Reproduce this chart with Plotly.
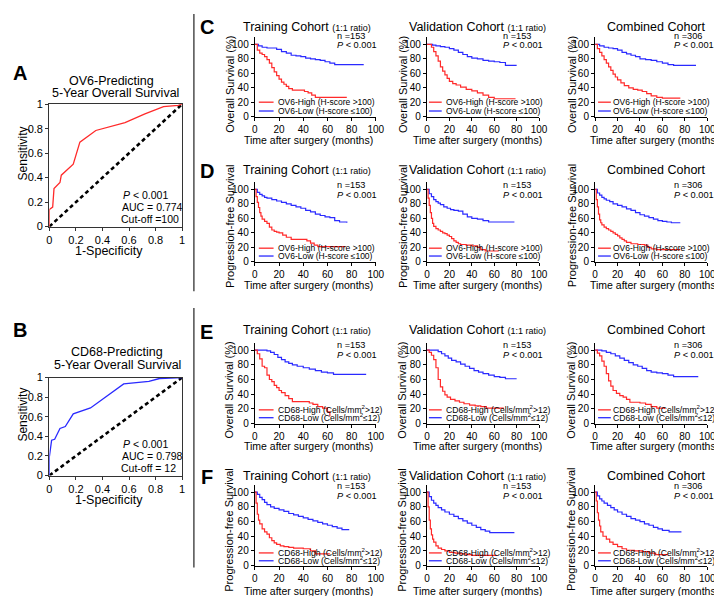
import plotly.graph_objects as go

W, H = 722, 596
FONT = "Arial, Liberation Sans, sans-serif"
RED = "#ff2a2a"
BLUE = "#2a2aff"

# ---------------- ROC data ----------------
ROC_A_FPR = [0, 0, 0.025, 0.035, 0.08, 0.09, 0.18, 0.23, 0.35, 0.57, 0.72, 0.86, 0.97, 1.0]
ROC_A_TPR = [0, 0.14, 0.16, 0.31, 0.36, 0.42, 0.51, 0.69, 0.785, 0.85, 0.92, 0.98, 0.99, 1.0]
ROC_B_FPR = [0, 0, 0.017, 0.04, 0.08, 0.12, 0.18, 0.31, 0.56, 0.75, 0.83, 0.95, 1.0]
ROC_B_TPR = [0, 0.19, 0.36, 0.37, 0.48, 0.50, 0.63, 0.69, 0.935, 0.96, 0.99, 1.0, 1.0]
ROC_TICKS = [0, 0.2, 0.4, 0.6, 0.8, 1]
ROC_TICKTEXT = ["0", "0.2", "0.4", "0.6", "0.8", "1"]

# ---------------- Kaplan-Meier data (time in months, survival %) ----------------
C_TRAIN_HIGH_T = [0, 2, 4, 6, 8, 10, 12, 14, 16, 18, 20, 22, 24, 26, 28, 31, 38, 41, 44, 47, 50, 76]
C_TRAIN_HIGH_S = [100, 92, 88, 86, 83, 79, 74, 68, 62, 57, 52, 48, 45, 42, 39, 37, 37, 35, 33, 30, 27, 27]
C_TRAIN_LOW_T = [0, 3, 6, 10, 14, 18, 22, 26, 30, 34, 38, 42, 46, 50, 54, 58, 62, 66, 90]
C_TRAIN_LOW_S = [100, 98, 96, 95, 95, 93, 90, 88, 85, 84, 83, 81, 80, 79, 78, 76, 74, 72, 72]

C_VAL_HIGH_T = [0, 4, 6, 8, 10, 12, 14, 16, 18, 20, 23, 26, 30, 35, 40, 45, 50, 55, 60, 79]
C_VAL_HIGH_S = [100, 96, 90, 84, 77, 69, 63, 58, 53, 49, 46, 44, 41, 38, 36, 33, 30, 27, 25, 25]
C_VAL_LOW_T = [0, 5, 8, 12, 16, 20, 24, 28, 32, 36, 40, 45, 50, 55, 60, 65, 70, 80]
C_VAL_LOW_S = [100, 99, 98, 97, 96, 94, 92, 89, 86, 83, 81, 80, 78, 77, 76, 75, 71, 71]

C_COMB_HIGH_T = [0, 2, 4, 6, 8, 10, 12, 14, 16, 18, 20, 23, 26, 30, 34, 38, 42, 46, 50, 55, 60, 76]
C_COMB_HIGH_S = [100, 94, 89, 84, 79, 74, 69, 64, 59, 55, 51, 47, 43, 40, 38, 37, 35, 32, 29, 27, 26, 26]
C_COMB_LOW_T = [0, 4, 8, 12, 16, 20, 24, 28, 32, 36, 40, 45, 50, 55, 60, 65, 70, 90]
C_COMB_LOW_S = [100, 98, 96, 95, 94, 92, 89, 87, 85, 83, 80, 79, 78, 76, 74, 72, 71, 71]

D_TRAIN_HIGH_T = [0, 1, 2, 3, 4, 5, 6, 8, 10, 12, 14, 16, 18, 20, 23, 26, 30, 40, 43, 46, 49, 52, 75]
D_TRAIN_HIGH_S = [100, 90, 82, 75, 68, 63, 59, 56, 53, 48, 44, 42, 41, 40, 37, 34, 31, 31, 29, 26, 23, 21, 21]
D_TRAIN_LOW_T = [0, 2, 4, 6, 8, 10, 14, 18, 22, 26, 30, 34, 38, 42, 46, 50, 54, 58, 62, 66, 70, 76]
D_TRAIN_LOW_S = [100, 96, 93, 91, 89, 88, 86, 84, 82, 80, 78, 76, 74, 71, 69, 66, 64, 62, 61, 57, 55, 54]

D_VAL_HIGH_T = [0, 1, 2, 3, 4, 5, 6, 8, 10, 12, 14, 16, 18, 20, 22, 24, 26, 28, 30, 35, 40, 45, 48, 52, 64]
D_VAL_HIGH_S = [100, 88, 78, 68, 60, 53, 49, 46, 44, 42, 40, 39, 37, 35, 32, 29, 27, 25, 24, 23, 22, 20, 17, 15, 15]
D_VAL_LOW_T = [0, 2, 4, 6, 8, 10, 12, 15, 18, 21, 24, 28, 32, 36, 40, 45, 50, 55, 78]
D_VAL_LOW_S = [100, 94, 90, 86, 83, 81, 79, 76, 74, 72, 71, 70, 66, 62, 60, 59, 57, 55, 55]

D_COMB_HIGH_T = [0, 1, 2, 3, 4, 5, 6, 8, 10, 12, 14, 16, 18, 20, 22, 24, 26, 28, 32, 38, 44, 47, 50, 55, 76]
D_COMB_HIGH_S = [100, 86, 76, 66, 58, 54, 51, 48, 46, 44, 42, 40, 38, 36, 33, 31, 29, 27, 25, 24, 23, 20, 18, 17, 17]
D_COMB_LOW_T = [0, 2, 4, 6, 8, 10, 13, 16, 20, 24, 28, 32, 36, 40, 44, 48, 52, 56, 60, 64, 68, 76]
D_COMB_LOW_S = [100, 95, 92, 89, 87, 85, 83, 80, 78, 76, 73, 71, 68, 65, 63, 61, 59, 57, 56, 55, 54, 54]

E_TRAIN_HIGH_T = [0, 2, 4, 6, 8, 10, 12, 14, 16, 18, 20, 22, 25, 28, 31, 40, 45, 48, 52, 56, 60, 62]
E_TRAIN_HIGH_S = [100, 95, 88, 78, 76, 66, 60, 57, 52, 49, 45, 42, 38, 34, 30, 30, 28, 26, 23, 21, 16, 10]
E_TRAIN_LOW_T = [0, 8, 10, 13, 16, 19, 22, 25, 28, 31, 35, 40, 45, 50, 55, 60, 65, 92]
E_TRAIN_LOW_S = [100, 100, 99, 97, 94, 90, 87, 84, 82, 80, 78, 76, 74, 72, 70, 69, 67, 67]

E_VAL_HIGH_T = [0, 2, 4, 6, 8, 10, 12, 14, 16, 18, 21, 25, 29, 33, 38, 43, 48, 53, 68]
E_VAL_HIGH_S = [100, 97, 93, 87, 76, 60, 50, 44, 39, 36, 33, 31, 29, 27, 25, 24, 23, 21, 20]
E_VAL_LOW_T = [0, 8, 10, 13, 16, 19, 22, 26, 30, 34, 38, 42, 46, 50, 55, 60, 65, 70, 80]
E_VAL_LOW_S = [100, 100, 98, 95, 92, 89, 86, 84, 81, 78, 75, 72, 70, 68, 66, 64, 63, 61, 61]

E_COMB_HIGH_T = [0, 2, 4, 6, 8, 10, 12, 14, 16, 19, 22, 25, 28, 31, 40, 45, 50, 55, 62]
E_COMB_HIGH_S = [100, 96, 92, 85, 78, 68, 58, 51, 45, 41, 38, 36, 33, 29, 28, 26, 23, 21, 20]
E_COMB_LOW_T = [0, 6, 10, 14, 18, 22, 26, 30, 34, 38, 42, 46, 50, 55, 60, 65, 70, 92]
E_COMB_LOW_S = [100, 99, 97, 95, 92, 89, 86, 83, 80, 78, 75, 72, 70, 69, 68, 66, 64, 64]

F_TRAIN_HIGH_T = [0, 1, 2, 3, 4, 6, 8, 10, 12, 14, 16, 18, 21, 24, 28, 32, 40, 46, 50, 62]
F_TRAIN_HIGH_S = [100, 85, 70, 62, 57, 50, 46, 43, 38, 34, 31, 29, 27, 26, 25, 24, 23, 20, 16, 16]
F_TRAIN_LOW_T = [0, 2, 4, 6, 8, 10, 13, 16, 20, 24, 28, 32, 36, 40, 44, 48, 52, 56, 60, 64, 68, 72, 78]
F_TRAIN_LOW_S = [100, 97, 93, 90, 86, 83, 80, 78, 76, 74, 71, 69, 67, 65, 63, 61, 59, 57, 55, 53, 51, 49, 49]

F_VAL_HIGH_T = [0, 1, 2, 3, 4, 5, 6, 8, 10, 13, 16, 20, 25, 30, 35, 40, 62]
F_VAL_HIGH_S = [100, 80, 62, 50, 42, 36, 32, 27, 24, 22, 20, 18, 17, 16, 15, 14, 14]
F_VAL_LOW_T = [0, 2, 4, 6, 8, 10, 13, 16, 20, 24, 28, 32, 36, 40, 44, 48, 52, 56, 78]
F_VAL_LOW_S = [100, 94, 89, 85, 82, 79, 76, 73, 70, 67, 64, 61, 58, 55, 52, 49, 47, 45, 45]

F_COMB_HIGH_T = [0, 1, 2, 3, 4, 5, 7, 10, 13, 16, 20, 24, 28, 35, 42, 48, 54, 65]
F_COMB_HIGH_S = [100, 88, 72, 62, 54, 46, 40, 36, 32, 29, 26, 23, 21, 20, 19, 17, 15, 15]
F_COMB_LOW_T = [0, 2, 4, 6, 8, 11, 14, 17, 20, 24, 28, 32, 36, 40, 44, 48, 52, 56, 60, 66, 77]
F_COMB_LOW_S = [100, 95, 91, 88, 85, 82, 79, 76, 73, 70, 67, 64, 62, 60, 57, 55, 52, 50, 48, 46, 46]

KM_TICKS = [0, 20, 40, 60, 80, 100]
COHORT_N = ["153", "153", "306"]

# ---------------- layout helpers (pixel geometry) ----------------
def P(x):
    return x / W

def Q(y):
    return 1 - y / H

fig = go.Figure()
annotations = []
shapes = []
layout = {}

def ann(text, x, y, size, xanchor="center", angle=0, yanchor="middle"):
    annotations.append(dict(text=text, x=P(x), y=Q(y), xref="paper", yref="paper",
                            showarrow=False, xanchor=xanchor, yanchor=yanchor,
                            textangle=angle, borderpad=0,
                            font=dict(size=size, color="black", family=FONT)))

def hline(x0, x1, y, color, width=1.3):
    shapes.append(dict(type="line", xref="paper", yref="paper", x0=P(x0), x1=P(x1),
                       y0=Q(y), y1=Q(y), line=dict(color=color, width=width)))

def vline(x, y0, y1, color="#222", width=1.2):
    shapes.append(dict(type="line", xref="paper", yref="paper", x0=P(x), x1=P(x),
                       y0=Q(y0), y1=Q(y1), line=dict(color=color, width=width)))

# ---------------- ROC panels ----------------
roc_panels = [
    dict(k=1, top=92, bot=217, fpr=ROC_A_FPR, tpr=ROC_A_TPR, color=RED, letter="A",
         letter_y=60, t1="OV6-Predicting", t1x=102, t1y=68, t2x=106, t2y=81,
         auc="0.774", cut="Cut-off =100"),
    dict(k=2, top=371, bot=471, fpr=ROC_B_FPR, tpr=ROC_B_TPR, color=BLUE, letter="B",
         letter_y=322, t1="CD68-Predicting", t1x=108, t1y=345, t2x=108, t2y=358,
         auc="0.798", cut="Cut-off = 12"),
]
for r in roc_panels:
    k = r["k"]
    xa = "x" if k == 1 else f"x{k}"
    ya = "y" if k == 1 else f"y{k}"
    fig.add_trace(go.Scatter(x=[0, 1], y=[0, 1], mode="lines", xaxis=xa, yaxis=ya,
                             line=dict(color="black", width=2.6, dash="4px,3px"),
                             showlegend=False, hoverinfo="skip"))
    fig.add_trace(go.Scatter(x=r["fpr"], y=r["tpr"], mode="lines", xaxis=xa, yaxis=ya,
                             line=dict(color=r["color"], width=1.3), showlegend=False))
    common = dict(range=[0, 1], tickvals=ROC_TICKS, ticktext=ROC_TICKTEXT, showline=True,
                  linecolor="#333", linewidth=1.4, mirror=True, ticks="outside", ticklen=3,
                  tickwidth=1, tickcolor="#333", showgrid=False, zeroline=False,
                  tickfont=dict(size=11, family=FONT, color="black"), fixedrange=True)
    layout["xaxis" if k == 1 else f"xaxis{k}"] = dict(common, domain=[P(39), P(174)], anchor=ya)
    layout["yaxis" if k == 1 else f"yaxis{k}"] = dict(common, domain=[Q(r["bot"]), Q(r["top"])], anchor=xa)
    ann("<b>%s</b>" % r["letter"], 9, r["letter_y"], 20)
    ann(r["t1"], r["t1x"], r["t1y"], 12.5)
    ann("5-Year Overall Survival", r["t2x"], r["t2y"], 12.5)
    ann("Sensitivity", 12, (r["top"] + r["bot"]) / 2 - 12, 12, angle=-90)
    ann("1-Specificity", 100, r["bot"] + 25, 12.5)
    ann("<i>P</i> &lt; 0.001", 113, r["bot"] - 32, 10.5, xanchor="left")
    ann("AUC = " + r["auc"], 112, r["bot"] - 20, 10.5, xanchor="left")
    ann(r["cut"], 111, r["bot"] - 8, 10.5, xanchor="left")

# ---------------- KM panels ----------------
cols = [dict(l=248, r=371, title="Training Cohort <span style='font-size:9px'>(1:1 ratio)</span>", tx=301,
             ytx=222, xtx=303, nx=330, leg0=252, leg1=267, legt=270),
        dict(l=423, r=537, title="Validation Cohort <span style='font-size:9px'>(1:1 ratio)</span>", tx=474,
             ytx=398, xtx=474, nx=499, leg0=425, leg1=438, legt=441),
        dict(l=594, r=708, title="Combined Cohort", tx=656,
             ytx=570, xtx=654, nx=673, leg0=597, leg1=610, legt=611)]

rows = [dict(letter="C", top=23.6, bot=105, ty=13, ly=13, ytitle="Overall Survival (%)", yty=72, xty=129,
             ny=22, py=32, lg=(90, 99), lab=("OV6-High (H-score &gt;100)", "OV6-Low (H-score ≤100)"), lf=8.5,
             data=[(C_TRAIN_HIGH_T, C_TRAIN_HIGH_S, C_TRAIN_LOW_T, C_TRAIN_LOW_S),
                   (C_VAL_HIGH_T, C_VAL_HIGH_S, C_VAL_LOW_T, C_VAL_LOW_S),
                   (C_COMB_HIGH_T, C_COMB_HIGH_S, C_COMB_LOW_T, C_COMB_LOW_S)]),
        dict(letter="D", top=171.6, bot=253, ty=159, ly=160, ytitle="Progression-free Survival", yty=216, xty=277,
             ny=175, py=185, lg=(239, 247), lab=("OV6-High (H-score &gt;100)", "OV6-Low (H-score ≤100)"), lf=8.5,
             data=[(D_TRAIN_HIGH_T, D_TRAIN_HIGH_S, D_TRAIN_LOW_T, D_TRAIN_LOW_S),
                   (D_VAL_HIGH_T, D_VAL_HIGH_S, D_VAL_LOW_T, D_VAL_LOW_S),
                   (D_COMB_HIGH_T, D_COMB_HIGH_S, D_COMB_LOW_T, D_COMB_LOW_S)]),
        dict(letter="E", top=335.5, bot=418, ty=322, ly=325, ytitle="Overall Survival (%)", yty=384, xty=441,
             ny=338, py=348, lg=(404, 412),
             lab=("CD68-High (Cells/mm<sup>2</sup>&gt;12)", "CD68-Low (Cells/mm<sup>2</sup>≤12)"), lf=8.6,
             data=[(E_TRAIN_HIGH_T, E_TRAIN_HIGH_S, E_TRAIN_LOW_T, E_TRAIN_LOW_S),
                   (E_VAL_HIGH_T, E_VAL_HIGH_S, E_VAL_LOW_T, E_VAL_LOW_S),
                   (E_COMB_HIGH_T, E_COMB_HIGH_S, E_COMB_LOW_T, E_COMB_LOW_S)]),
        dict(letter="F", top=480.5, bot=563, ty=471, ly=473, ytitle="Progression-free Survival", yty=526, xty=589,
             ny=482, py=492, lg=(550, 558),
             lab=("CD68-High (Cells/mm<sup>2</sup>&gt;12)", "CD68-Low (Cells/mm<sup>2</sup>≤12)"), lf=8.6,
             data=[(F_TRAIN_HIGH_T, F_TRAIN_HIGH_S, F_TRAIN_LOW_T, F_TRAIN_LOW_S),
                   (F_VAL_HIGH_T, F_VAL_HIGH_S, F_VAL_LOW_T, F_VAL_LOW_S),
                   (F_COMB_HIGH_T, F_COMB_HIGH_S, F_COMB_LOW_T, F_COMB_LOW_S)])]

k = 3
for row in rows:
    ann("<b>%s</b>" % row["letter"], 199, row["ly"], 20)
    for ci, col in enumerate(cols):
        ht, hs, lt, ls = row["data"][ci]
        xa, ya = f"x{k}", f"y{k}"
        fig.add_trace(go.Scatter(x=lt, y=ls, mode="lines", line_shape="hv", xaxis=xa, yaxis=ya,
                                 line=dict(color=BLUE, width=1.2), showlegend=False))
        fig.add_trace(go.Scatter(x=ht, y=hs, mode="lines", line_shape="hv", xaxis=xa, yaxis=ya,
                                 line=dict(color=RED, width=1.2), showlegend=False))
        axc = dict(showline=True, linecolor="black", linewidth=1.3, ticks="outside", ticklen=3,
                   tickwidth=1, tickcolor="black", showgrid=False, zeroline=False, fixedrange=True,
                   tickfont=dict(size=10, family=FONT, color="black"), tickvals=KM_TICKS)
        layout[f"xaxis{k}"] = dict(axc, domain=[P(col["l"]), P(col["r"])], anchor=ya, range=[0, 100])
        layout[f"yaxis{k}"] = dict(axc, domain=[Q(row["bot"]), Q(row["top"])], anchor=xa, range=[0, 110])
        ann(col["title"], col["tx"], row["ty"], 12.5)
        ann(row["ytitle"], col["ytx"], row["yty"], 11, angle=-90)
        ann("Time after surgery (months)", col["xtx"], row["xty"], 10.5)
        ann("n =" + COHORT_N[ci], col["nx"], row["ny"], 9.2, xanchor="left")
        ann("<i>P</i> &lt; 0.001", col["nx"], row["py"], 9.2, xanchor="left")
        hline(col["leg0"], col["leg1"], row["lg"][0], RED)
        hline(col["leg0"], col["leg1"], row["lg"][1], BLUE)
        ann(row["lab"][0], col["legt"], row["lg"][0], row["lf"], xanchor="left")
        ann(row["lab"][1], col["legt"], row["lg"][1], row["lf"], xanchor="left")
        k += 1

# separator line between left and right blocks
vline(186, 0, 283)
vline(186, 300, 565)

fig.update_layout(width=W, height=H, margin=dict(l=0, r=0, t=0, b=0),
                  paper_bgcolor="white", plot_bgcolor="white",
                  font=dict(family=FONT, color="black"),
                  annotations=annotations, shapes=shapes, showlegend=False, **layout)

fig.write_html("out.html")
